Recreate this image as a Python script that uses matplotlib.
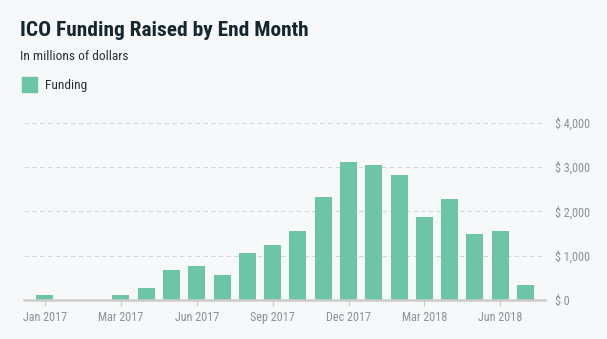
import matplotlib
matplotlib.use("Agg")
import matplotlib.pyplot as plt
from matplotlib import font_manager
from matplotlib.patches import Rectangle

# funding per month slot, millions of dollars
funding = [110, 0, 0, 110, 278, 684, 767, 564, 1061, 1242, 1560,
           2325, 3115, 3047, 2822, 1874, 2280, 1490, 1558, 339]
tick_slots = [0, 3, 6, 9, 12, 15, 18]
tick_labels = ["Jan 2017", "Mar 2017", "Jun 2017", "Sep 2017",
               "Dec 2017", "Mar 2018", "Jun 2018"]
y_ticks = [0, 1000, 2000, 3000, 4000]

# prefer a condensed face if the system has one
names = {f.name for f in font_manager.fontManager.ttflist}
cond = None
for n in ["Roboto Condensed", "Liberation Sans Narrow", "Open Sans Condensed"]:
    if n in names:
        cond = n
        break
font = cond if cond else "Roboto"

bg = "#f7f8fa"
bar_color = "#6cc5a7"
grey = "#8c9196"

fig = plt.figure(figsize=(6.07, 3.39), dpi=100, facecolor=bg)
ax = fig.add_axes([0.0395, 0.115, 0.858, 0.535])
ax.set_facecolor(bg)

x = list(range(len(funding)))
ax.bar(x, funding, width=0.67, color=bar_color, zorder=3)

ax.set_xlim(-0.83, 19.76)
ax.set_ylim(0, 4090)

ax.set_yticks(y_ticks)
ax.set_yticklabels([f"$ {v:,}" for v in y_ticks])
ax.yaxis.tick_right()
ax.tick_params(axis="y", length=0, pad=7, labelsize=8.7, labelcolor=grey)
for lab in ax.get_yticklabels():
    lab.set_fontfamily(font)
    lab.set_horizontalalignment("left")

ax.set_xticks(tick_slots)
ax.set_xticklabels(tick_labels)
ax.tick_params(axis="x", length=4, width=0.8, color="#cccccc", pad=4,
               labelsize=8.7, labelcolor=grey)
for lab in ax.get_xticklabels():
    lab.set_fontfamily(font)

ax.grid(axis="y", color="#d3d5d8", linestyle=(0, (4, 3)), linewidth=0.8, zorder=0)
for side in ["top", "right", "left"]:
    ax.spines[side].set_visible(False)
ax.spines["bottom"].set_color("#cccccc")
ax.spines["bottom"].set_linewidth(1.8)
ax.spines["bottom"].set_zorder(4)

fig.text(20 / 607, 1 - 30 / 339, "ICO Funding Raised by End Month", fontsize=15.4,
         fontweight="bold", color="#15262f", family=font, va="center", ha="left")
fig.text(20 / 607, 1 - 57 / 339, "In millions of dollars", fontsize=9.6,
         color="#2a2f33", family=font, va="center", ha="left")
fig.patches.append(Rectangle((22 / 607, 1 - 92 / 339), 15 / 607, 15 / 339,
                             transform=fig.transFigure, color=bar_color))
fig.text(45 / 607, 1 - 85 / 339, "Funding", fontsize=9.6, color="#2a2f33",
         family=font, va="center", ha="left")

plt.savefig("out.png", dpi=100, facecolor=bg)
